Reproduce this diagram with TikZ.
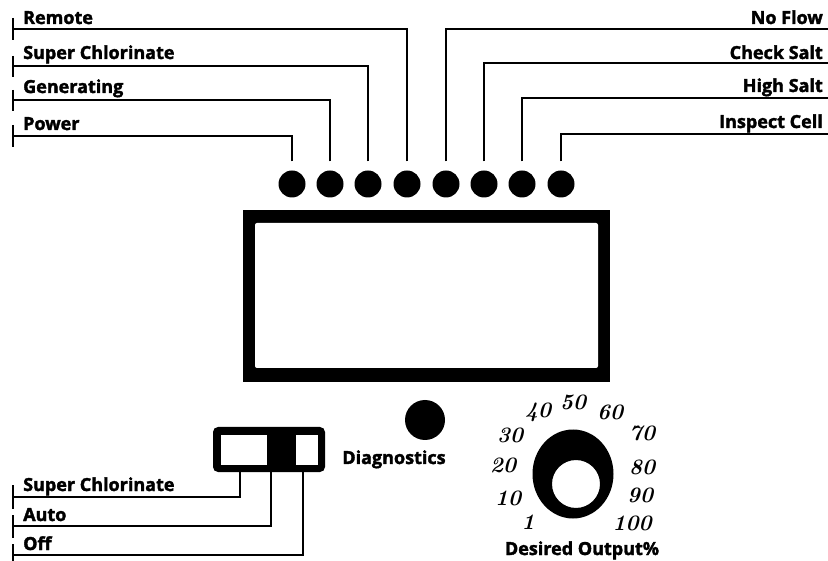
\documentclass[tikz,border=0pt]{standalone}
\usepackage{fontspec}
\newfontfamily\lblfont{Open Sans}[BoldFeatures={FakeBold=2}]
\newfontfamily\dialfont{Latin Modern Roman}
\begin{document}
\begin{tikzpicture}[x=1pt,y=-1pt,
  lbl/.style={font=\lblfont\bfseries\fontsize{18}{20}\selectfont, inner sep=0pt},
  dialnum/.style={font=\dialfont\bfseries\itshape\fontsize{22}{24}\selectfont, inner sep=0pt},
  wire/.style={line width=1.6pt, black},
  tick/.style={line width=1.6pt, black},
  led/.style={circle, fill=black, minimum size=27pt, inner sep=0pt}]
\useasboundingbox (0,0) rectangle (828,561);
\fill[white] (0,0) rectangle (828,561);

% LEDs
\foreach \i/\x in {1/292,2/330,3/368,4/407,5/446,6/484,7/522,8/561}
  \node[led] (led\i) at (\x,184) {};

% left labels
\node[lbl, anchor=base west] (tRemote) at (23,24) {Remote};
\node[lbl, anchor=base west] (tSuper) at (23,59) {Super Chlorinate};
\node[lbl, anchor=base west] (tGen) at (23,93) {Generating};
\node[lbl, anchor=base west] (tPower) at (23,130) {Power};
\coordinate (cRemote) at (13,29);
\coordinate (cSuper) at (13,66);
\coordinate (cGen) at (13,100);
\coordinate (cPower) at (13,136);
\draw[tick] (13,18) -- (13,40);
\draw[tick] (13,56) -- (13,77);
\draw[tick] (13,90) -- (13,111);
\draw[tick] (13,125) -- (13,147);
\draw[wire] ([yshift=9pt]led1.north) |- (cPower);
\draw[wire] ([yshift=9pt]led2.north) |- (cGen);
\draw[wire] ([yshift=9pt]led3.north) |- (cSuper);
\draw[wire] ([yshift=9pt]led4.north) |- (cRemote);

% right labels
\node[lbl, anchor=base east] (tNoFlow) at (823,24) {No Flow};
\node[lbl, anchor=base east] (tCheck) at (823,59) {Check Salt};
\node[lbl, anchor=base east] (tHigh) at (823,92) {High Salt};
\node[lbl, anchor=base east] (tInspect) at (823,128) {Inspect Cell};
\coordinate (cNoFlow) at (828,29);
\coordinate (cCheck) at (828,63);
\coordinate (cHigh) at (828,98);
\coordinate (cInspect) at (828,134);
\draw[wire] ([yshift=9pt]led5.north) |- (cNoFlow);
\draw[wire] ([yshift=9pt]led6.north) |- (cCheck);
\draw[wire] ([yshift=9pt]led7.north) |- (cHigh);
\draw[wire] ([yshift=9pt]led8.north) |- (cInspect);

% display
\fill[black] (243,210) rectangle (610,382);
\fill[white, rounded corners=2pt] (255,223) rectangle (598,368);
\node[inner sep=0pt] (display) at (426.5,296) {};

% switch
\fill[black, rounded corners=5pt] (213,427) rectangle (325,472);
\fill[white] (221,435) rectangle (267,465);
\fill[white] (296,435) rectangle (318,465);
\node[inner sep=0pt] (switch) at (269,449.5) {};
\coordinate (sw1) at (240,472);
\coordinate (sw2) at (271,472);
\coordinate (sw3) at (303,472);
\node[lbl, anchor=base west] (bSuper) at (23,491) {Super Chlorinate};
\node[lbl, anchor=base west] (bAuto) at (23,521) {Auto};
\node[lbl, anchor=base west] (bOff) at (23,550) {Off};
\coordinate (dSuper) at (13,497);
\coordinate (dAuto) at (13,526);
\coordinate (dOff) at (13,555);
\draw[tick] (13,485) -- (13,509);
\draw[tick] (13,515) -- (13,538);
\draw[tick] (13,544) -- (13,561);
\draw[wire] (sw1) |- (dSuper);
\draw[wire] (sw2) |- (dAuto);
\draw[wire] (sw3) |- (dOff);

% diagnostics
\node[circle, fill=black, minimum size=40pt, inner sep=0pt] (diag) at (425,420) {};
\node[lbl, anchor=base] (tDiag) at (394,464) {Diagnostics};

% dial
\fill[black, even odd rule] (573,474) ellipse [x radius=40.5, y radius=44.5]
  (576,484) circle [radius=24];
\node[inner sep=0pt] (dial) at (573,474) {};
\node[dialnum] (n1) at (528,522) {1};
\node[dialnum] (n10) at (508,498) {10};
\node[dialnum] (n20) at (503,465) {20};
\node[dialnum] (n30) at (510,435) {30};
\node[dialnum] (n40) at (538,412) {40};
\node[dialnum] (n50) at (573,402) {50};
\node[dialnum] (n60) at (610,412) {60};
\node[dialnum] (n70) at (642,433) {70};
\node[dialnum] (n80) at (642,467) {80};
\node[dialnum] (n90) at (640,495) {90};
\node[dialnum] (n100) at (632,523) {100};
\node[lbl, anchor=base] (tOut) at (582,555) {Desired Output\%};
\end{tikzpicture}
\end{document}
